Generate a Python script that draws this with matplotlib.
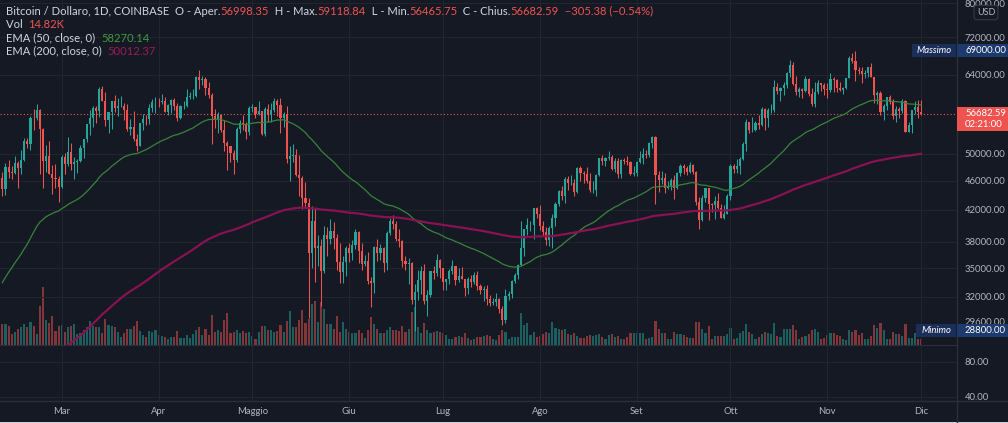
import matplotlib.pyplot as plt
import numpy as np
import pandas as pd
from matplotlib.patches import Rectangle
from matplotlib.lines import Line2D
from matplotlib.transforms import IdentityTransform
from matplotlib.ticker import NullLocator

plt.rcParams['font.family'] = ['Lato', 'DejaVu Sans']

# BTC / USD daily candles (Coinbase), 10 Feb 2021 -> 1 Dec 2021
first_open = 46397

close_feb = [44807, 47969, 47287, 47153, 48577, 47911, 49133, 52119, 51553, 55906,
             55842, 57409, 54087, 48892, 49685, 47023, 46339, 46170, 45122]
high_feb = [47310, 48678, 48985, 48150, 49700, 48876, 50600, 52600, 52530, 56338,
            57500, 58350, 57500, 54200, 51360, 52000, 48300, 48400, 46600]
low_feb = [43800, 43994, 46400, 46202, 47014, 45000, 47000, 48945, 50901, 50691,
           53863, 55500, 46900, 44950, 47200, 46900, 44100, 45000, 43000]

close_mar = [49587, 48426, 50375, 48379, 48758, 48876, 50971, 52375, 54885, 55851,
             57773, 57222, 61188, 58968, 55605, 56900, 58913, 57648, 58030, 58102,
             57351, 54097, 54342, 52303, 51293, 55025, 55817, 55777, 57628, 58760, 58778]
high_mar = [49800, 50100, 52650, 51800, 49450, 49200, 51450, 52400, 54900, 57380,
            58100, 58000, 61700, 61780, 60600, 56950, 58950, 60100, 59450, 59900,
            58600, 58400, 55800, 57200, 53200, 55100, 56600, 56500, 58400, 59400, 59800]
low_mar = [45000, 47000, 48100, 47500, 46300, 47100, 48800, 49300, 51850, 53000,
           54300, 55000, 56100, 58900, 54600, 53300, 54100, 57000, 56300, 57800,
           55500, 53700, 53000, 52000, 50400, 51300, 53950, 54700, 54900, 57000, 56800]

close_apr = [58730, 58990, 57052, 58208, 59107, 57999, 56014, 57985, 58094, 59765,
             59850, 59961, 63554, 62969, 63226, 61427, 60059, 56274, 55697, 56500,
             53800, 51731, 51187, 50110, 49072, 54021, 55033, 54832, 53560, 57700]
high_apr = [59500, 60200, 59800, 58500, 59250, 59500, 58650, 58200, 58900, 61200,
            60700, 61300, 63800, 64900, 63800, 63600, 62500, 60400, 57500, 57000,
            56700, 55500, 52100, 51200, 50600, 54400, 55500, 56400, 55200, 58000]
low_apr = [57900, 58500, 56900, 56500, 56800, 57300, 55450, 55750, 57600, 57900,
           59300, 59400, 59800, 61300, 62000, 60000, 59600, 51500, 54200, 53400,
           53600, 50500, 47500, 48800, 47000, 48800, 53300, 53900, 52400, 53100]

close_may = [57800, 56577, 57169, 53200, 57473, 56428, 57380, 58928, 58280, 55859,
             56700, 49150, 49716, 49880, 46760, 46430, 43538, 42850, 36690, 40596,
             37300, 37531, 34700, 38800, 38350, 39300, 38500, 35700, 34600, 35700, 37300]
high_may = [58500, 57950, 58950, 57200, 57900, 58350, 58650, 59500, 59300, 59600,
            57000, 58000, 51300, 51500, 50700, 49800, 46600, 45800, 43550, 42500,
            42200, 38800, 38300, 39900, 39800, 40800, 40400, 38900, 37900, 36400, 37500]
low_may = [57000, 56000, 56500, 53000, 52900, 55200, 55300, 56900, 56300, 53400,
           54300, 48600, 46000, 48800, 46600, 43800, 42100, 42200, 30000, 35000,
           33500, 35300, 31100, 34500, 36400, 37800, 37200, 34800, 33400, 33400, 34200]

close_jun = [36700, 37600, 39200, 36900, 35500, 35800, 33600, 33400, 37400, 36700,
             37300, 35600, 39100, 40500, 40200, 38300, 38100, 35800, 35500, 35600,
             31700, 32500, 33700, 34700, 31600, 32200, 34700, 34500, 35900, 35000]
high_jun = [37900, 38200, 39500, 39300, 37900, 36500, 36800, 34100, 37500, 38400,
            37700, 37400, 39300, 41000, 41300, 40500, 39500, 38200, 36400, 36100,
            35700, 33300, 34800, 35300, 35500, 32700, 34700, 35300, 36600, 36000]
low_jun = [35700, 35900, 37200, 35600, 34800, 35300, 33300, 31000, 32400, 35800,
           35900, 34600, 34800, 38800, 39500, 38100, 37400, 35100, 34800, 33300,
           31300, 28800, 31700, 32300, 31300, 30200, 32000, 33900, 34200, 34000]

close_jul = [33500, 33800, 34700, 35300, 33700, 34200, 33900, 32900, 33800, 33500,
             34300, 33100, 32700, 32800, 31800, 31400, 31500, 31800, 30800, 29800,
             32100, 32300, 33600, 34300, 35400, 37300, 39500, 40000, 40000, 42200, 41500]
high_jul = [35000, 33900, 34900, 35900, 35300, 35000, 35100, 33900, 34100, 34300,
            34600, 34700, 33300, 33100, 33200, 32200, 31900, 32400, 31900, 31100,
            32800, 32600, 33700, 34500, 35500, 40500, 39600, 40900, 40600, 42300, 42400]
low_jul = [32700, 32700, 33300, 34400, 33200, 33500, 33800, 32100, 32300, 33000,
           33300, 32700, 32300, 31600, 31200, 31100, 31200, 31100, 30400, 29300,
           29500, 31700, 31900, 33400, 33900, 35200, 36400, 38800, 39300, 38300, 41000]

close_aug = [39900, 39200, 38200, 39700, 40900, 42800, 44600, 43800, 46300, 45600,
             45600, 44400, 47800, 47100, 47000, 45900, 44700, 44700, 46800, 49300,
             48900, 49300, 49500, 47700, 48900, 46900, 49100, 48900, 48800, 46900, 47100]
high_aug = [42600, 40500, 39800, 39900, 41400, 43000, 44700, 45300, 46500, 46700,
            46800, 46200, 48000, 48100, 47400, 48000, 47100, 46000, 47000, 49400,
            49800, 49500, 50500, 49900, 49300, 49300, 49200, 49300, 49600, 48900, 48200]
low_aug = [39400, 38700, 37600, 37500, 37300, 39900, 42500, 43300, 42900, 44700,
           45400, 43800, 44300, 45900, 45600, 45700, 44400, 44200, 43900, 46700,
           48300, 48100, 49100, 47600, 47200, 46400, 46400, 48400, 48300, 46800, 46700]

close_sep = [48800, 49300, 50000, 49900, 51800, 52700, 46800, 46100, 46400, 44900,
             45200, 46100, 44900, 47100, 48100, 47800, 47300, 48300, 47300, 43000,
             40700, 43600, 44900, 42800, 42700, 43200, 42200, 41000, 41500, 43800]
high_sep = [48900, 50400, 51000, 50600, 51900, 52800, 52900, 47400, 47400, 47100,
            45900, 46400, 46800, 47200, 48400, 48500, 48200, 48800, 48400, 47400,
            43700, 44000, 45000, 45000, 42900, 43900, 44300, 42800, 42600, 44100]
low_sep = [46600, 48600, 48400, 49400, 49500, 50900, 42800, 44400, 45500, 44200,
           44800, 44700, 43400, 44800, 46700, 47000, 46800, 47100, 46900, 42600,
           39600, 40600, 43100, 40700, 41700, 40800, 42100, 40900, 40800, 41400]

close_oct = [48200, 47700, 48200, 49200, 51500, 55300, 53800, 53900, 55000, 54700,
             57500, 56000, 57400, 57400, 61700, 60900, 61500, 62000, 64300, 66000,
             62200, 60700, 61300, 60900, 63100, 60300, 58500, 60600, 62300, 61900, 61300]
high_oct = [48500, 48400, 49200, 49500, 51900, 55700, 55300, 56100, 55400, 56500,
            57800, 57700, 57700, 58500, 62900, 62300, 61700, 62600, 64500, 67000,
            66700, 63700, 61700, 61500, 63700, 63300, 61500, 62500, 62900, 62300, 62400]
low_oct = [43300, 47100, 47100, 46900, 49100, 50400, 53400, 53600, 53700, 54100,
           54500, 53900, 54300, 56800, 56900, 60200, 58900, 60000, 61400, 63500,
           62000, 60000, 59700, 59500, 60700, 59900, 58000, 57800, 60200, 60800, 60000]

close_nov = [61000, 63200, 62900, 61400, 61000, 61500, 63300, 67500, 66900, 64900,
             64800, 64100, 64400, 65500, 63600, 60100, 60400, 56900, 58100, 59700,
             58700, 56300, 57600, 57200, 58900, 53600, 54800, 57300, 57800, 56998.35]
high_nov = [62400, 64300, 63500, 63100, 62600, 61600, 63400, 67800, 68500, 69000,
            65600, 65500, 64900, 65600, 66300, 63600, 60800, 60900, 58400, 59800,
            60000, 59300, 58000, 57800, 59400, 59200, 55300, 57400, 58900, 59200]
low_nov = [59500, 60700, 60700, 60700, 60800, 60200, 61300, 63300, 66300, 62800,
           64100, 62300, 63300, 63600, 63500, 58600, 58400, 56500, 55600, 57400,
           58500, 55700, 55300, 55900, 56800, 53500, 53500, 53300, 56700, 56000]

close_dec = [56682.59]
high_dec = [59118.84]
low_dec = [56465.75]

# volume bars (read as bar heights)
volume = [21, 21, 19, 11, 13, 16, 18, 21, 18, 23, 19, 11, 39, 58, 25, 22, 29, 14, 19, 20,
          13, 18, 19, 21, 11, 12, 15, 18, 24, 19, 18, 18, 12, 26, 20, 19, 18, 13, 8, 12,
          16, 16, 19, 24, 14, 10, 8, 14, 13, 15, 10, 9, 8, 6, 8, 8, 14, 7, 7, 10,
          7, 11, 15, 18, 10, 16, 10, 30, 13, 15, 13, 25, 32, 12, 13,
          15, 12, 14, 12, 13, 9, 6, 13, 19, 19, 15, 15, 13, 14, 20, 13, 24, 34, 18, 18,
          25, 35, 22, 26, 41, 44, 23, 43, 36, 21, 21, 16, 29, 13, 23, 16, 13, 12, 12, 15,
          12, 7, 15, 28, 21, 16, 12, 12, 15, 18, 15, 15, 14, 19, 13, 16, 33, 38, 18, 12,
          22, 15, 12, 13, 14, 13, 12, 10, 6, 6, 8, 9, 8, 12,
          7, 5, 6, 8, 8, 9, 10, 9, 6, 5, 10, 15, 13, 6, 8, 8, 8, 32, 20, 22,
          10, 13, 8, 9, 11, 13, 12, 23, 17, 16, 15, 16, 11, 10, 12, 9, 7, 7, 9, 10,
          9, 10, 11, 8, 6, 10, 11, 8, 9, 6, 6, 8, 12, 12, 12, 12, 12, 6, 7, 8,
          24, 16, 12, 12, 6, 6, 13, 11, 11, 10, 8, 7, 7, 23, 23,
          16, 12, 19, 6, 9, 9, 9, 9, 11, 17, 6, 7, 12, 14, 21, 13, 11, 6, 8, 11,
          13, 12, 11, 22, 9, 8, 16, 16, 16, 20, 15, 6, 8, 9, 11, 15, 16, 13, 6, 7,
          10, 12, 12, 10, 9, 6, 5, 15, 13, 15, 10, 12, 6, 6, 9, 20, 17, 22, 15, 6,
          6, 13, 11, 11, 9, 21, 7, 7, 12, 6, 6]

# EMA values just before the first candle
ema50_seed = 33000
ema200_seed = 22100

price_ticks = [29600, 32000, 35000, 38000, 42000, 46000, 50000, 64000, 72000, 80000]
grid_ticks = price_ticks[1:]
lower_ticks = [40, 80]
month_labels = ['Mar', 'Apr', 'Maggio', 'Giu', 'Lug', 'Ago', 'Set', 'Ott', 'Nov', 'Dic']
max_price = 69000.00
min_price = 28800.00

close = np.array(close_feb + close_mar + close_apr + close_may + close_jun + close_jul
                 + close_aug + close_sep + close_oct + close_nov + close_dec, dtype=float)
high = np.array(high_feb + high_mar + high_apr + high_may + high_jun + high_jul
                + high_aug + high_sep + high_oct + high_nov + high_dec, dtype=float)
low = np.array(low_feb + low_mar + low_apr + low_may + low_jun + low_jul
               + low_aug + low_sep + low_oct + low_nov + low_dec, dtype=float)
opens = np.r_[first_open, close[:-1]]
dates = pd.date_range('2021-02-10', periods=len(close), freq='D')
x = np.arange(len(close))
up = close >= opens
month_pos = [i for i, d in enumerate(dates) if d.day == 1]

ema50 = pd.Series(np.r_[ema50_seed, close]).ewm(span=50, adjust=False).mean().to_numpy()[1:]
ema200 = pd.Series(np.r_[ema200_seed, close]).ewm(span=200, adjust=False).mean().to_numpy()[1:]

BG = '#151924'
GRID = '#21252f'
SEP = '#2a2e39'
TXT = '#b2b5be'
LEG = '#d1d4dc'
UP = '#26a69a'
DOWN = '#ef5350'
NAVY = '#1d3a6e'
NAVY2 = '#1b2e5a'
FS = 6.8
FS_LEG = 8.1

W, H = 1008, 423
fig = plt.figure(figsize=(W / 100, H / 100), dpi=100, facecolor=BG)
right = 957 / W
pos_price = [0, 78 / H, right, 345 / H]
ax_vol = fig.add_axes(pos_price)
ax = fig.add_axes(pos_price, sharex=ax_vol)
ax_low = fig.add_axes([0, 22 / H, right, 56 / H], sharex=ax_vol)
ax_vol.set_zorder(0)
ax.set_zorder(1)
ax.patch.set_visible(False)
ax_low.set_facecolor(BG)

colors = np.where(up, UP, DOWN)

# volume
ax_vol.bar(x, volume, width=0.68, color=colors, alpha=0.5, lw=0)
ax_vol.set_ylim(0, 345)
ax_vol.set_axis_off()

# price pane
ax.set_yscale('log')
ax.set_ylim(27550, 80810)
ax.set_xlim(-0.74, 305.5)
for t in grid_ticks:
    ax.axhline(t, color=GRID, lw=0.8, zorder=0)
ax.set_xticks(month_pos)
ax.grid(axis='x', color=GRID, lw=0.8)
ax.tick_params(axis='x', length=0, labelbottom=False)

ax.vlines(x, low, high, colors=colors, lw=0.75, zorder=3)
body_lo = np.minimum(opens, close)
body_hi = np.maximum(opens, close)
ax.bar(x, body_hi - body_lo, bottom=body_lo, width=0.68, color=colors, lw=0, zorder=4)

ax.plot(x, ema50, color='#37843a', lw=0.9, zorder=5)
ax.plot(x, ema200, color='#8a1152', lw=1.6, zorder=5)
ax.axhline(close[-1], color=DOWN, lw=0.8, ls=(0, (1, 2)), zorder=2)

ax.yaxis.tick_right()
ax.set_yticks(price_ticks)
ax.set_yticklabels([f'{t:.2f}' for t in price_ticks])
ax.yaxis.set_minor_locator(NullLocator())
ax.tick_params(axis='y', length=0, pad=5.5, labelcolor=TXT, labelsize=FS)
for s in ['top', 'left']:
    ax.spines[s].set_visible(False)
for s in ['bottom', 'right']:
    ax.spines[s].set_color(SEP)

# lower empty pane with its own scale
ax_low.set_ylim(35.4, 99.4)
ax_low.yaxis.tick_right()
ax_low.set_yticks(lower_ticks)
ax_low.set_yticklabels([f'{t:.2f}' for t in lower_ticks])
ax_low.set_xticks(month_pos)
ax_low.set_xticklabels(month_labels)
ax_low.grid(color=GRID, lw=0.8)
ax_low.tick_params(length=0, labelcolor=TXT, labelsize=FS)
ax_low.tick_params(axis='y', pad=5.5)
ax_low.tick_params(axis='x', pad=4)
for s in ['top', 'left', 'bottom']:
    ax_low.spines[s].set_visible(False)
ax_low.spines['right'].set_color(SEP)

fig.add_artist(Line2D([0, 1], [22 / H, 22 / H], color=SEP, lw=1))
fig.add_artist(Line2D([right, right], [0, 1], color=SEP, lw=1))
fig.add_artist(Rectangle((0, 0), W, 1.5, transform=IdentityTransform(), fc='#cfd2d9', ec='none'))

# price-scale tags
ident = IdentityTransform()
x_axis = right * W


def ypix(price):
    return ax.transData.transform((0, price))[1]


def box(x0, y0, w, h, fc):
    fig.add_artist(Rectangle((x0, y0), w, h, transform=ident, fc=fc, ec='none', zorder=10))


def label(xp, yp, s, **kw):
    fig.text(xp, yp, s, transform=ident, color='white', fontsize=FS, va='center', zorder=11, **kw)


yc = ypix(close[-1])
box(x_axis, yc - 17, W - x_axis, 24, DOWN)
label(x_axis + 8, yc, f'{close[-1]:.2f}')
label(x_axis + 8, yc - 11, '02:21:00')

for price, name, x_name in [(max_price, 'Massimo', 912), (min_price, 'Minimo', 916)]:
    yc = ypix(price)
    box(x_name, yc - 6.5, x_axis - 1 - x_name, 13, NAVY2)
    box(x_axis, yc - 6.5, W - x_axis, 13, NAVY)
    label((x_name + x_axis) / 2, yc, name, ha='center', style='italic')
    label(x_axis + 8, yc, f'{price:.2f}')

fig.text(986, H - 12.5, 'USD', transform=ident, color=TXT, fontsize=FS - 0.3, ha='center', va='center',
         bbox=dict(boxstyle='round,pad=0.3', fc=BG, ec='#363a45', lw=0.8))

# legend lines
renderer = fig.canvas.get_renderer()


def segments(y_top, parts):
    xp = 6
    for s, c in parts:
        t = fig.text(xp, H - y_top, s, transform=ident, color=c, fontsize=FS_LEG, va='center')
        xp += t.get_window_extent(renderer=renderer).width


segments(11, [('Bitcoin / Dollaro, 1D, COINBASE  O - Aper.', LEG), ('56998.35', DOWN),
              ('  H - Max.', LEG), ('59118.84', DOWN), ('  L - Min.', LEG), ('56465.75', DOWN),
              ('  C - Chius.', LEG), ('56682.59', DOWN), ('  \u2212305.38 (\u22120.54%)', DOWN)])
segments(24, [('Vol  ', LEG), ('14.82K', DOWN)])
segments(38, [('EMA (50, close, 0)  ', LEG), ('58270.14', '#3f9a3f')])
segments(51, [('EMA (200, close, 0)  ', LEG), ('50012.37', '#9c1a5c')])

fig.savefig('out.png', dpi=100, facecolor=BG)
